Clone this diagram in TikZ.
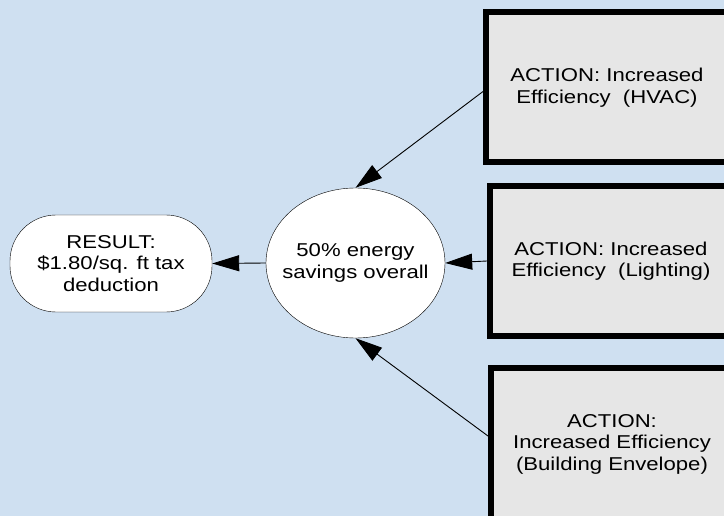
\documentclass[tikz,border=0pt]{standalone}
\usepackage{fontspec}
\setmainfont{Liberation Sans}[FakeStretch=1.19]
\usetikzlibrary{arrows.meta,shapes.geometric}
\definecolor{bgblue}{RGB}{207,224,241}
\definecolor{boxgray}{RGB}{230,230,230}
\begin{document}
\begin{tikzpicture}[x=1pt,y=-1pt,font=\fontsize{18.6}{21.5}\selectfont,
		action/.style={draw,line width=6pt,fill=boxgray,minimum width=242pt,minimum height=150pt,align=center,inner sep=0pt},
		arr/.style={-{Triangle[length=27pt,width=16pt]},line width=0.9pt}]
				\fill[bgblue] (0,0) rectangle (724,516);
				\useasboundingbox (0,0) rectangle (724,516);
				\node[draw,fill=white,rounded corners=46pt,minimum width=202pt,minimum height=97pt,align=center,inner sep=0pt] (result) at (111,263.5) {RESULT:\\\$1.80/sq. ft tax\\deduction};
				\node[ellipse,draw,fill=white,minimum width=179pt,minimum height=150pt,align=center,inner xsep=-16pt,inner ysep=0pt] (savings) at (355.5,263) {50\% energy\\savings overall};
				\node[action] (hvac) at (607,87.5) {ACTION: Increased\\Efficiency\ \ (HVAC)};
				\node[action] (lighting) at (611,261) {ACTION: Increased\\Efficiency\ \ (Lighting)};
				\node[action,minimum height=152pt] (envelope) at (612,444) {ACTION:\\Increased Efficiency\\(Building Envelope)};
				\draw[arr] ([yshift=-4pt]hvac.west) -- (savings.north);
				\draw[arr] (lighting.west) -- (savings.east);
				\draw[arr] ([yshift=8pt]envelope.west) -- (savings.south);
				\draw[arr] (savings.west) -- (result.east);
			\end{tikzpicture}
\end{document}
